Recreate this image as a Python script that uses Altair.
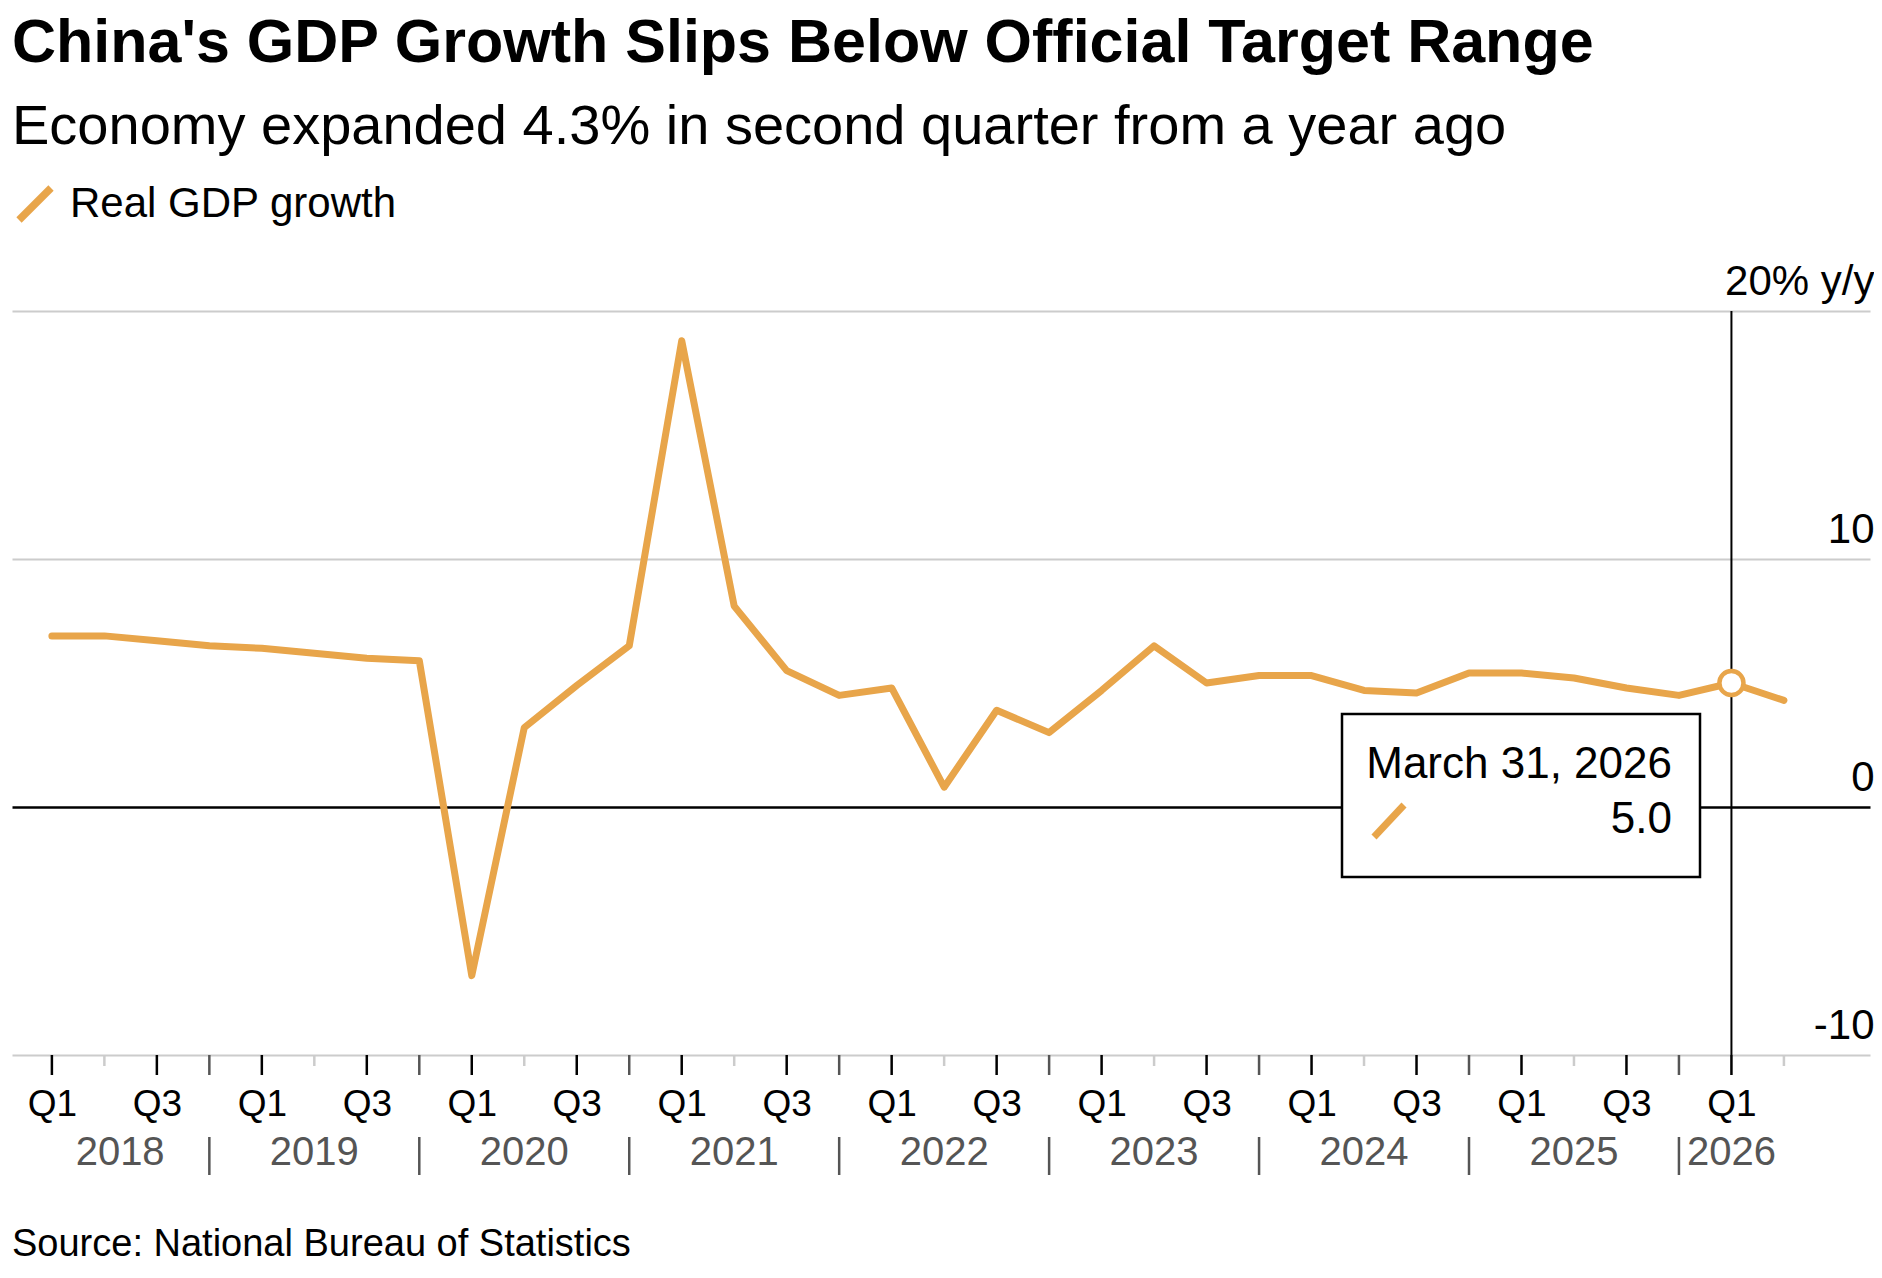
import altair as alt
import pandas as pd

# ---------------- data ----------------
years = [2018, 2019, 2020, 2021, 2022, 2023, 2024, 2025, 2026]
quarter_names = ["Q1", "Q2", "Q3", "Q4"]
quarter_end = ["March 31", "June 30", "September 30", "December 31"]
growth = [6.9, 6.9, 6.7, 6.5,
          6.4, 6.2, 6.0, 5.9,
          -6.8, 3.2, 4.9, 6.5,
          18.8, 8.1, 5.5, 4.5,
          4.8, 0.8, 3.9, 3.0,
          4.7, 6.5, 5.0, 5.3,
          5.3, 4.7, 4.6, 5.4,
          5.4, 5.2, 4.8, 4.5,
          5.0, 4.3]
y_ticks = [-10, 0, 10, 20]
y_tick_labels = ["-10", "0", "10", "20% y/y"]
series_name = "Real GDP growth"
highlight_index = 32
title_text = "China's GDP Growth Slips Below Official Target Range"
subtitle_text = "Economy expanded 4.3% in second quarter from a year ago"
source_text = "Source: National Bureau of Statistics"

ORANGE = "#E8A54A"
FONT = "Liberation Sans"

n = len(growth)
df = pd.DataFrame({
    "t": list(range(n)),
    "growth": growth,
    "year": [years[i // 4] for i in range(n)],
    "q": [quarter_names[i % 4] for i in range(n)],
    "date_label": [f"{quarter_end[i % 4]}, {years[i // 4]}" for i in range(n)],
    "series": [series_name] * n,
})

last_t = n - 1
year_df = pd.DataFrame({
    "label": [str(y) for y in years],
    "mid": [(max(4 * i - 1, -0.4) + min(4 * i + 3, last_t)) / 2 for i in range(len(years))],
})

W, H = 1858, 744
x_scale = alt.Scale(domain=[-0.76, 34.64], nice=False, zero=False)
y_scale = alt.Scale(domain=[-10, 20], nice=False, zero=False)

base = alt.Chart(df)

q_label_expr = "[" + ",".join(f"'{q}'" for q in quarter_names) + "][datum.value % 4]"
y_label_expr = ("[" + ",".join(f"'{s}'" for s in y_tick_labels) + "][indexof(["
                + ",".join(str(v) for v in y_ticks) + "], datum.value)]")

line = base.mark_line(strokeWidth=7, strokeJoin="round", strokeCap="round").encode(
    x=alt.X("t:Q", scale=x_scale, axis=alt.Axis(
        values=[t for t in range(n) if t % 4 in (0, 2)],
        labelExpr=q_label_expr, ticks=False, tickSize=0, domain=False, grid=False,
        labelFontSize=37, labelFont=FONT, labelColor="black", labelPadding=60,
        labelBaseline="alphabetic", labelFlush=False, labelOverlap=False, title=None)),
    y=alt.Y("growth:Q", scale=y_scale, axis=alt.Axis(
        orient="right", values=y_ticks, labelExpr=y_label_expr,
        grid=True,
        gridColor={"condition": {"test": "datum.value === 0", "value": "black"}, "value": "#cccccc"},
        gridWidth={"condition": {"test": "datum.value === 0", "value": 2.5}, "value": 2.2},
        ticks=False, tickSize=0, domain=False, labelAlign="right", labelBaseline="alphabetic",
        labelPadding=4, labelOffset=-17, labelFontSize=42, labelFont=FONT, labelColor="black",
        labelFlush=False, labelOverlap=False, labelLimit=0, title=None)),
    color=alt.Color("series:N", scale=alt.Scale(domain=[series_name], range=[ORANGE]),
                    legend=alt.Legend(orient="none", legendX=2, legendY=-128, title=None,
                                      symbolType="M-1,1L1,-1", symbolSize=1024,
                                      symbolStrokeWidth=7.5, labelFontSize=42, labelFont=FONT,
                                      labelColor="black", labelOffset=14, labelLimit=0, padding=0)),
)

ticks13 = base.transform_filter("datum.q == 'Q1' || datum.q == 'Q3'").mark_rule(
    color="black", strokeWidth=2.5).encode(x=alt.X("t:Q", scale=x_scale), y=alt.value(H), y2=alt.value(H + 20))
ticks2 = base.transform_filter("datum.q == 'Q2'").mark_rule(
    color="#cccccc", strokeWidth=2.5).encode(x=alt.X("t:Q", scale=x_scale), y=alt.value(H), y2=alt.value(H + 11))
ticks4 = base.transform_filter("datum.q == 'Q4'").mark_rule(
    color="#555555", strokeWidth=2.5).encode(x=alt.X("t:Q", scale=x_scale), y=alt.value(H), y2=alt.value(H + 20))
seps = base.transform_filter("datum.q == 'Q4'").mark_rule(
    color="#555555", strokeWidth=2.5).encode(x=alt.X("t:Q", scale=x_scale), y=alt.value(H + 82), y2=alt.value(H + 120))

year_text = alt.Chart(year_df).mark_text(
    font=FONT, fontSize=40, color="#555555", align="center", baseline="alphabetic").encode(
    x=alt.X("mid:Q", scale=x_scale), y=alt.value(H + 110), text="label:N")

hl = base.transform_filter(f"datum.t == {highlight_index}")

vline = hl.mark_rule(color="black", strokeWidth=2).encode(
    x=alt.X("t:Q", scale=x_scale), y=alt.value(0), y2=alt.value(H))

marker = hl.mark_point(shape="circle", filled=True, fill="white", stroke=ORANGE,
                       strokeWidth=4.5, size=580, opacity=1).encode(
    x=alt.X("t:Q", scale=x_scale), y=alt.Y("growth:Q", scale=y_scale))

box = hl.mark_rect(fill="white", stroke="black", strokeWidth=2.5).encode(
    x=alt.value(1330), x2=alt.value(1688), y=alt.value(403), y2=alt.value(566))
box_date = hl.mark_text(font=FONT, fontSize=44, color="black", align="right", baseline="alphabetic").encode(
    x=alt.value(1660), y=alt.value(467), text="date_label:N")
box_val = hl.mark_text(font=FONT, fontSize=44, color="black", align="right", baseline="alphabetic").encode(
    x=alt.value(1660), y=alt.value(522), text=alt.Text("growth:Q", format=".1f"))
box_swatch = hl.mark_rule(color=ORANGE, strokeWidth=7).encode(
    x=alt.value(1362), x2=alt.value(1392), y=alt.value(526), y2=alt.value(494))

one = alt.Chart(alt.Data(values=[{"k": 1}]))
title = one.mark_text(text=title_text, font=FONT, fontSize=61, fontWeight="bold", color="black",
                      align="left", baseline="alphabetic").encode(x=alt.value(0), y=alt.value(-249))
subtitle = one.mark_text(text=subtitle_text, font=FONT, fontSize=56, color="black",
                         align="left", baseline="alphabetic").encode(x=alt.value(0), y=alt.value(-167))
source = one.mark_text(text=source_text, font=FONT, fontSize=38, color="black",
                       align="left", baseline="alphabetic").encode(x=alt.value(0), y=alt.value(945))

chart = alt.layer(
    line, ticks2, ticks4, ticks13, seps, year_text, vline, marker,
    box, box_date, box_val, box_swatch, title, subtitle, source,
).properties(
    width=W, height=H,
    padding={"left": 4, "right": 4, "top": 303, "bottom": 211},
    autosize=alt.AutoSizeParams(type="none"),
).configure(font=FONT).configure_view(strokeWidth=0, stroke="transparent")

chart.save("out.html", embed_options={"renderer": "svg", "actions": False})
